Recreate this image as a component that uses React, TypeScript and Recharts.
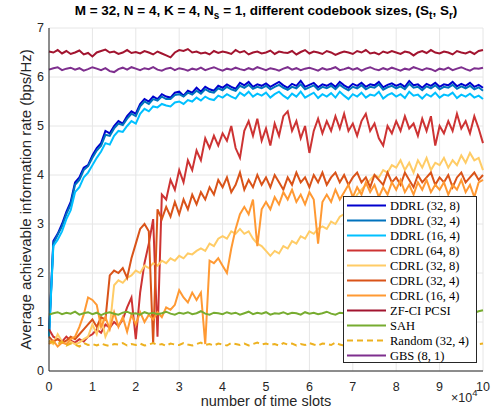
import { LineChart, Line, XAxis, YAxis, CartesianGrid, Legend } from 'recharts'

// time slot index of every sample (x axis shown in units of 1e4)
const slots = [
  0, 1000, 2000, 3000, 4000, 5000, 6000, 7000, 8000, 9000,
  10000, 11000, 12000, 13000, 14000, 15000, 16000, 17000, 18000, 19000,
  20000, 21000, 22000, 23000, 24000, 25000, 26000, 27000, 28000, 29000,
  30000, 31000, 32000, 33000, 34000, 35000, 36000, 37000, 38000, 39000,
  40000, 41000, 42000, 43000, 44000, 45000, 46000, 47000, 48000, 49000,
  50000, 51000, 52000, 53000, 54000, 55000, 56000, 57000, 58000, 59000,
  60000, 61000, 62000, 63000, 64000, 65000, 66000, 67000, 68000, 69000,
  70000, 71000, 72000, 73000, 74000, 75000, 76000, 77000, 78000, 79000,
  80000, 81000, 82000, 83000, 84000, 85000, 86000, 87000, 88000, 89000,
  90000, 91000, 92000, 93000, 94000, 95000, 96000, 97000, 98000, 99000,
  100000,
]

const xTicks = [0, 10000, 20000, 30000, 40000, 50000, 60000, 70000, 80000, 90000, 100000]
const yTicks = [0, 1, 2, 3, 4, 5, 6, 7]

const ddrl328 = [
  0.75, 2.65, 2.8, 3.0, 3.25, 3.45, 3.85, 3.95, 4.15, 4.2,
  4.4, 4.55, 4.65, 4.9, 4.85, 5.0, 5.1, 5.05, 5.2, 5.3,
  5.25, 5.45, 5.55, 5.5, 5.6, 5.55, 5.65, 5.6, 5.58, 5.68,
  5.7, 5.62, 5.72, 5.68, 5.78, 5.7, 5.8, 5.75, 5.72, 5.82,
  5.78, 5.85, 5.8, 5.76, 5.88, 5.83, 5.9, 5.8, 5.85, 5.82,
  5.87, 5.8, 5.85, 5.9, 5.83, 5.78, 5.86, 5.82, 5.92, 5.8,
  5.84, 5.88, 5.79, 5.85, 5.82, 5.87, 5.8, 5.9, 5.83, 5.78,
  5.86, 5.82, 5.88, 5.8, 5.85, 5.83, 5.9, 5.79, 5.84, 5.87,
  5.82, 5.86, 5.8, 5.92, 5.83, 5.85, 5.78, 5.86, 5.82, 5.88,
  5.8, 5.85, 5.83, 5.9, 5.81, 5.86, 5.82, 5.88, 5.8, 5.84,
  5.78,
]

const ddrl324 = [
  0.72, 2.6, 2.78, 2.95, 3.2, 3.4, 3.8, 3.9, 4.1, 4.18,
  4.35, 4.5, 4.6, 4.82, 4.8, 4.95, 5.05, 5.02, 5.15, 5.25,
  5.2, 5.4, 5.5, 5.45, 5.55, 5.52, 5.6, 5.55, 5.55, 5.63,
  5.65, 5.6, 5.68, 5.64, 5.72, 5.66, 5.75, 5.7, 5.68, 5.77,
  5.73, 5.8, 5.75, 5.72, 5.82, 5.78, 5.84, 5.76, 5.8, 5.77,
  5.82, 5.75, 5.8, 5.84, 5.78, 5.74, 5.8, 5.77, 5.85, 5.75,
  5.79, 5.83, 5.74, 5.8, 5.77, 5.82, 5.75, 5.84, 5.78, 5.73,
  5.8, 5.77, 5.83, 5.75, 5.8, 5.78, 5.85, 5.74, 5.79, 5.82,
  5.77, 5.81, 5.75, 5.86, 5.78, 5.8, 5.73, 5.81, 5.77, 5.83,
  5.75, 5.8, 5.78, 5.84, 5.76, 5.81, 5.77, 5.82, 5.75, 5.79,
  5.72,
]

const ddrl164 = [
  0.7, 2.55, 2.68, 2.85, 3.1, 3.28, 3.65, 3.75, 3.95, 4.05,
  4.2, 4.35, 4.48, 4.65, 4.62, 4.8, 4.9, 4.88, 5.0, 5.1,
  5.05, 5.25, 5.35, 5.3, 5.4, 5.38, 5.45, 5.42, 5.4, 5.48,
  5.5, 5.45, 5.53, 5.5, 5.58, 5.52, 5.6, 5.55, 5.53, 5.62,
  5.58, 5.65, 5.6, 5.56, 5.68, 5.62, 5.7, 5.6, 5.66, 5.62,
  5.68, 5.58, 5.65, 5.7, 5.62, 5.56, 5.66, 5.6, 5.7, 5.58,
  5.63, 5.68, 5.57, 5.65, 5.6, 5.67, 5.58, 5.7, 5.62, 5.55,
  5.65, 5.6, 5.68, 5.58, 5.64, 5.62, 5.7, 5.56, 5.63, 5.67,
  5.6, 5.65, 5.57, 5.7, 5.62, 5.64, 5.56, 5.65, 5.6, 5.68,
  5.58, 5.64, 5.62, 5.68, 5.57, 5.64, 5.6, 5.66, 5.58, 5.62,
  5.55,
]

const cdrl648 = [
  0.85, 0.7, 0.65, 0.6, 0.7, 0.62, 0.58, 0.65, 0.6, 0.7,
  0.75, 0.85, 0.78, 0.95, 0.88, 1.0, 0.92, 1.05, 1.3, 1.5,
  0.65, 1.6, 2.2, 2.6, 3.1, 0.7, 3.6, 3.5, 3.9, 3.7,
  4.1, 3.85, 4.3, 4.1, 4.5, 4.3, 4.75, 4.55, 4.8, 4.6,
  4.85, 4.7, 5.0, 4.55, 4.35, 4.9, 5.1, 4.8, 5.15, 4.7,
  4.95, 4.6, 5.05, 4.8, 5.2, 5.3, 4.9, 5.1, 4.75, 5.0,
  4.45, 4.9, 5.15, 4.85, 5.1, 4.9, 5.2, 4.95, 5.25, 4.9,
  5.05, 4.8, 5.1, 5.25, 4.9, 5.05, 4.75, 4.6, 5.0, 4.85,
  5.1, 4.9, 5.2, 4.95, 5.05, 4.8, 5.15, 4.9, 5.2, 4.6,
  5.0, 4.85, 5.1, 4.9, 5.25, 4.95, 5.1, 4.85, 5.2, 4.95,
  4.65,
]

const cdrl328 = [
  0.6, 0.55, 0.75, 0.6, 0.55, 0.6, 0.55, 0.58, 0.65, 0.7,
  0.95, 0.75, 1.1, 0.7, 0.9, 1.75, 1.85, 1.8, 1.9, 1.95,
  2.05, 2.0, 2.15, 2.1, 2.2, 2.15, 2.25, 2.2, 2.3, 2.25,
  2.35, 2.3, 2.4, 2.38, 2.45, 2.5, 2.45, 2.6, 2.55, 2.7,
  2.75, 2.7, 2.85, 2.8, 2.9, 2.8, 2.85, 2.7, 2.6, 2.55,
  2.45, 2.35, 2.45, 2.4, 2.55, 2.5, 2.65, 2.6, 2.75, 2.7,
  2.85, 2.8, 2.9, 2.95, 2.9, 3.05, 3.0, 3.15, 3.2, 3.3,
  3.45, 3.6, 3.7, 3.8, 3.9, 4.0, 3.95, 4.1, 4.05, 4.2,
  4.15, 4.3, 4.1, 4.25, 4.05, 4.3, 4.15, 4.35, 4.1, 4.25,
  4.2, 4.35, 4.15, 4.3, 4.2, 4.4, 4.25, 4.45, 4.3, 4.35,
  4.1,
]

const cdrl324 = [
  0.7, 0.6, 0.65, 0.58, 0.62, 0.7, 0.65, 0.75, 0.85, 0.95,
  1.05, 0.9, 1.1, 1.05, 1.95, 2.05, 2.0, 2.1, 1.9, 2.3,
  2.6, 2.9, 3.0, 2.85, 0.55, 3.3, 3.1, 3.35, 3.15, 3.45,
  3.2, 3.5, 3.3, 3.6, 3.4, 3.65, 3.5, 3.75, 3.6, 3.9,
  3.75, 3.95, 3.65, 3.8, 4.05, 3.7, 3.9, 3.75, 4.0, 3.8,
  3.95, 3.75, 4.0, 3.85, 3.7, 3.95, 3.8, 4.05, 3.85, 3.95,
  3.75, 4.0, 3.85, 4.05, 3.8, 3.95, 4.05, 3.85, 4.0, 3.8,
  3.95, 4.05, 3.85, 3.95, 3.75, 4.0, 3.9, 3.8, 4.05, 3.85,
  3.95, 3.8, 4.05, 3.9, 3.75, 4.0, 3.85, 3.95, 4.05, 3.8,
  3.95, 3.85, 4.0, 3.75, 3.95, 4.05, 3.85, 3.95, 4.05, 3.9,
  4.0,
]

const cdrl164 = [
  0.55, 0.62, 0.5, 0.58, 0.55, 0.65, 0.7, 0.9, 1.15, 1.5,
  1.45, 1.35, 0.9, 1.1, 0.85, 1.2, 0.9, 1.1, 0.8, 1.15,
  0.95, 1.2, 1.0, 1.15, 1.05, 1.2, 1.1, 1.3, 1.25, 1.35,
  1.65, 1.5, 1.4, 1.6, 1.45, 1.6, 0.55, 2.25, 2.2, 2.3,
  2.15, 2.0, 2.5, 2.9, 3.2, 3.35, 3.2, 3.5, 2.55, 3.3,
  3.45, 3.3, 3.55, 3.4, 3.65, 3.5, 3.7, 3.45, 3.6, 3.4,
  3.65, 3.5, 2.6, 3.45, 3.6, 3.45, 3.7, 3.5, 3.65, 3.8,
  3.55, 3.75, 3.6, 3.85, 3.65, 3.8, 3.55, 3.75, 3.6, 3.85,
  3.7, 3.9, 3.65, 3.8, 3.6, 3.85, 3.7, 3.9, 3.65, 3.8,
  3.7, 3.85, 3.6, 3.8, 3.7, 3.9, 3.65, 3.8, 3.55, 3.85,
  3.9,
]

const zfciPcsi = [
  6.52, 6.5, 6.55, 6.48, 6.53, 6.47, 6.5, 6.54, 6.46, 6.49,
  6.42, 6.5, 6.53, 6.56, 6.5, 6.52, 6.47, 6.5, 6.55, 6.49,
  6.51, 6.48, 6.53, 6.5, 6.46, 6.52, 6.48, 6.44, 6.4, 6.5,
  6.55, 6.53, 6.57, 6.5, 6.52, 6.48, 6.5, 6.46, 6.53, 6.49,
  6.52, 6.5, 6.47, 6.55, 6.5, 6.53, 6.46, 6.5, 6.52, 6.48,
  6.5, 6.54, 6.47, 6.52, 6.5, 6.49, 6.53, 6.46, 6.51, 6.55,
  6.48, 6.52, 6.5, 6.47, 6.53, 6.5, 6.45, 6.49, 6.52, 6.5,
  6.47, 6.53, 6.5, 6.55, 6.48, 6.5, 6.46, 6.52, 6.49, 6.53,
  6.5, 6.47, 6.52, 6.5, 6.44, 6.5, 6.53, 6.49, 6.55, 6.5,
  6.48, 6.52, 6.5, 6.46, 6.53, 6.5, 6.48, 6.52, 6.47, 6.53,
  6.55,
]

const sah = [
  1.15, 1.18, 1.2, 1.16, 1.19, 1.17, 1.21, 1.15, 1.18, 1.2,
  1.16, 1.19, 1.14, 1.18, 1.2, 1.17, 1.15, 1.19, 1.21, 1.17,
  1.18, 1.15, 1.2, 1.17, 1.19, 1.16, 1.18, 1.21, 1.17, 1.15,
  1.19, 1.17, 1.2, 1.16, 1.18, 1.22, 1.17, 1.15, 1.19, 1.18,
  1.16, 1.2, 1.17, 1.19, 1.15, 1.18, 1.21, 1.16, 1.19, 1.17,
  1.2, 1.15, 1.18, 1.17, 1.2, 1.16, 1.19, 1.18, 1.15, 1.2,
  1.17, 1.19, 1.16, 1.18, 1.21, 1.17, 1.15, 1.19, 1.18, 1.16,
  1.2, 1.17, 1.19, 1.15, 1.18, 1.2, 1.16, 1.19, 1.17, 1.21,
  1.16, 1.18, 1.2, 1.15, 1.19, 1.17, 1.18, 1.21, 1.16, 1.19,
  1.17, 1.2, 1.15, 1.18, 1.19, 1.16, 1.2, 1.17, 1.19, 1.22,
  1.24,
]

const random324 = [
  0.62, 0.58, 0.55, 0.6, 0.52, 0.56, 0.54, 0.5, 0.57, 0.53,
  0.55, 0.52, 0.56, 0.53, 0.51, 0.55, 0.54, 0.57, 0.52, 0.55,
  0.53, 0.56, 0.52, 0.54, 0.57, 0.53, 0.55, 0.51, 0.56, 0.54,
  0.53, 0.57, 0.54, 0.52, 0.55, 0.58, 0.53, 0.55, 0.52, 0.56,
  0.54, 0.52, 0.57, 0.55, 0.53, 0.56, 0.52, 0.55, 0.58, 0.54,
  0.56, 0.53, 0.55, 0.52, 0.57, 0.54, 0.56, 0.52, 0.55, 0.53,
  0.57, 0.54, 0.52, 0.56, 0.55, 0.53, 0.58, 0.54, 0.52, 0.56,
  0.54, 0.57, 0.53, 0.55, 0.52, 0.56, 0.54, 0.58, 0.55, 0.53,
  0.56, 0.52, 0.55, 0.57, 0.53, 0.55, 0.52, 0.56, 0.54, 0.53,
  0.55, 0.57, 0.53, 0.55, 0.52, 0.56, 0.54, 0.58, 0.53, 0.55,
  0.56,
]

const gbs81 = [
  6.15, 6.18, 6.2, 6.14, 6.17, 6.19, 6.15, 6.18, 6.13, 6.16,
  6.2, 6.17, 6.14, 6.18, 6.12, 6.1, 6.16, 6.19, 6.15, 6.2,
  6.17, 6.14, 6.18, 6.16, 6.2, 6.15, 6.13, 6.17, 6.19, 6.14,
  6.18, 6.16, 6.13, 6.17, 6.15, 6.19, 6.14, 6.17, 6.2, 6.16,
  6.13, 6.17, 6.15, 6.19, 6.16, 6.14, 6.18, 6.15, 6.2, 6.17,
  6.14, 6.18, 6.16, 6.13, 6.17, 6.2, 6.15, 6.18, 6.14, 6.17,
  6.19, 6.16, 6.13, 6.18, 6.15, 6.17, 6.2, 6.14, 6.16, 6.19,
  6.15, 6.18, 6.13, 6.17, 6.2, 6.16, 6.14, 6.18, 6.15, 6.19,
  6.16, 6.13, 6.17, 6.15, 6.2, 6.17, 6.14, 6.18, 6.16, 6.12,
  6.17, 6.15, 6.19, 6.14, 6.17, 6.2, 6.16, 6.13, 6.18, 6.17,
  6.19,
]

// plotting order is also the legend order
const SERIES = [
  { key: 'ddrl328', name: 'DDRL (32, 8)', color: '#0000CD', values: ddrl328 },
  { key: 'ddrl324', name: 'DDRL (32, 4)', color: '#0072BD', values: ddrl324 },
  { key: 'ddrl164', name: 'DDRL (16, 4)', color: '#00C0FF', values: ddrl164 },
  { key: 'cdrl648', name: 'CDRL (64, 8)', color: '#CD3333', values: cdrl648 },
  { key: 'cdrl328', name: 'CDRL (32, 8)', color: '#FFCC66', values: cdrl328 },
  { key: 'cdrl324', name: 'CDRL (32, 4)', color: '#D95319', values: cdrl324 },
  { key: 'cdrl164', name: 'CDRL (16, 4)', color: '#FF9933', values: cdrl164 },
  { key: 'zfci', name: 'ZF-CI PCSI', color: '#A2142F', values: zfciPcsi },
  { key: 'sah', name: 'SAH', color: '#77AC30', values: sah },
  { key: 'random', name: 'Random (32, 4)', color: '#EDB120', values: random324, dash: '6 4' },
  { key: 'gbs', name: 'GBS (8, 1)', color: '#7E2F8E', values: gbs81 },
]

const data = slots.map((t, i) => {
  const row: Record<string, number> = { t }
  SERIES.forEach(s => { row[s.key] = s.values[i] })
  return row
})

const AXIS = '#262626'
const SANS = "'Liberation Sans', Arial, sans-serif"

function BoxLegend() {
  return (
    <svg width={134} height={167} style={{ display: 'block' }}>
      <rect x={0.5} y={0.5} width={133} height={166} fill="#fff" stroke={AXIS} />
      {SERIES.map((s, i) => {
        const y = 9.5 + i * 15
        return (
          <g key={s.key}>
            <line x1={4} x2={43} y1={y} y2={y} stroke={s.color} strokeWidth={2} strokeDasharray={s.dash} />
            <text x={47} y={y + 4} fontFamily="'Liberation Serif', serif" fontSize={12.5} fill="#000">
              {s.name}
            </text>
          </g>
        )
      })}
    </svg>
  )
}

export default function App() {
  return (
    <div style={{ position: 'absolute', left: 0, top: 0, width: 496, height: 420, background: '#fff', fontFamily: SANS }}>
      <div style={{ position: 'absolute', left: 49, top: 3, width: 434, textAlign: 'center', fontSize: 13.5, fontWeight: 'bold', color: '#000', whiteSpace: 'nowrap' }}>
        M = 32, N = 4, K = 4, N<sub style={{ fontSize: 10 }}>s</sub> = 1, different codebook sizes, (S<sub style={{ fontSize: 10 }}>t</sub>, S<sub style={{ fontSize: 10 }}>r</sub>)
      </div>
      <LineChart width={496} height={420} data={data} margin={{ top: 28, right: 13, bottom: 0, left: 0 }}>
        <XAxis xAxisId="xin" dataKey="t" type="number" domain={[0, 100000]} ticks={xTicks}
          orientation="bottom" mirror height={0} tick={false} tickSize={4} axisLine={false} tickLine={{ stroke: AXIS }} />
        <XAxis xAxisId="x" dataKey="t" type="number" domain={[0, 100000]} ticks={xTicks}
          height={49} tickLine={false} tickSize={0} tickMargin={11}
          tickFormatter={(v: number) => String(v / 10000)}
          tick={{ fontSize: 12.5, fill: AXIS, fontFamily: SANS }}
          axisLine={{ stroke: AXIS }}
          label={{ value: 'number of time slots', position: 'insideBottom', offset: 14, style: { fontSize: 14.5, fill: AXIS, fontFamily: SANS } }} />
        <XAxis xAxisId="xtop" dataKey="t" type="number" domain={[0, 100000]} ticks={xTicks}
          orientation="top" mirror height={0} tick={false} tickSize={4} axisLine={{ stroke: AXIS }} tickLine={{ stroke: AXIS }} />
        <YAxis yAxisId="yin" type="number" domain={[0, 7]} ticks={yTicks}
          mirror width={0} tick={false} tickSize={4} axisLine={false} tickLine={{ stroke: AXIS }} />
        <YAxis yAxisId="y" type="number" domain={[0, 7]} ticks={yTicks}
          width={49} tickLine={false} tickSize={0} tickMargin={5}
          tick={{ fontSize: 12.5, fill: AXIS, fontFamily: SANS }}
          axisLine={{ stroke: AXIS }}
          label={{ value: 'Average achievable information rate (bps/Hz)', angle: -90, position: 'insideLeft', offset: 26, style: { textAnchor: 'middle', fontSize: 15, fill: AXIS, fontFamily: SANS } }} />
        <YAxis yAxisId="yright" type="number" domain={[0, 7]} ticks={yTicks}
          orientation="right" mirror width={0} tick={false} tickSize={4} axisLine={{ stroke: AXIS }} tickLine={{ stroke: AXIS }} />
        <CartesianGrid xAxisId="x" yAxisId="y" stroke="#E6E6E6" />
        {SERIES.map(s => (
          <Line key={s.key} xAxisId="x" yAxisId="y" dataKey={s.key} name={s.name} type="linear"
            stroke={s.color} strokeWidth={2} strokeDasharray={s.dash} dot={false} activeDot={false}
            isAnimationActive={false} />
        ))}
        <Legend content={<BoxLegend />} layout="horizontal" verticalAlign="middle" align="center"
          wrapperStyle={{ left: 343, top: 196, width: 134, height: 167 }} />
      </LineChart>
      <div style={{ position: 'absolute', left: 451, top: 391, fontSize: 12.5, color: AXIS, whiteSpace: 'nowrap' }}>
        ×10<span style={{ position: 'relative', top: -6, fontSize: 9.5 }}>4</span>
      </div>
    </div>
  )
}
